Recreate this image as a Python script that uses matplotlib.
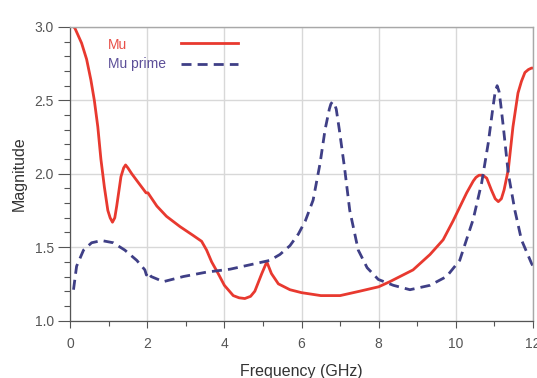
import numpy as np
import matplotlib
matplotlib.use("Agg")
import matplotlib.pyplot as plt

plt.rcParams['font.family'] = ['Liberation Sans', 'DejaVu Sans']

# -------------------------------
# Data
# -------------------------------
mu_freq = [0.10, 0.13, 0.30, 0.43, 0.54, 0.63, 0.72, 0.80, 0.89, 0.98,
           1.04, 1.10, 1.16, 1.21, 1.32, 1.39, 1.44, 1.50, 1.60, 1.77,
           1.97, 2.02, 2.07, 2.25, 2.50, 2.85, 3.19, 3.41, 3.54, 3.67,
           3.84, 4.00, 4.23, 4.38, 4.53, 4.68, 4.79, 4.97, 5.10, 5.22,
           5.40, 5.70, 6.00, 6.50, 7.00, 7.51, 8.00, 8.29, 8.89, 9.33,
           9.67, 9.93, 10.28, 10.45, 10.52, 10.60, 10.70, 10.80, 10.92, 11.02,
           11.10, 11.18, 11.25, 11.36, 11.48, 11.61, 11.70, 11.79, 11.88, 11.96,
           12.00]
mu_mag = [3.00, 2.99, 2.89, 2.78, 2.64, 2.50, 2.32, 2.10, 1.91, 1.75,
          1.70, 1.67, 1.70, 1.78, 1.98, 2.04, 2.06, 2.04, 2.00, 1.94,
          1.87, 1.87, 1.85, 1.78, 1.71, 1.64, 1.58, 1.54, 1.48, 1.40,
          1.32, 1.24, 1.17, 1.155, 1.15, 1.165, 1.20, 1.32, 1.40, 1.32,
          1.25, 1.21, 1.19, 1.17, 1.17, 1.20, 1.23, 1.265, 1.345, 1.45,
          1.55, 1.68, 1.87, 1.95, 1.975, 1.99, 1.99, 1.97, 1.89, 1.83,
          1.81, 1.83, 1.89, 2.03, 2.32, 2.55, 2.63, 2.69, 2.71, 2.72,
          2.72]

mup_freq = [0.09, 0.17, 0.35, 0.56, 0.82, 1.12, 1.42, 1.73, 1.94, 1.98,
            2.02, 2.10, 2.42, 2.94, 3.54, 4.15, 4.84, 5.18, 5.44, 5.70,
            5.92, 6.10, 6.30, 6.48, 6.61, 6.72, 6.76, 6.80, 6.85, 6.90,
            6.98, 7.12, 7.25, 7.47, 7.70, 7.99, 8.38, 8.81, 9.33, 9.76,
            10.10, 10.45, 10.67, 10.84, 10.96, 11.02, 11.07, 11.12, 11.16, 11.23,
            11.36, 11.53, 11.70, 11.96, 12.00]
mup_mag = [1.21, 1.37, 1.48, 1.53, 1.545, 1.53, 1.48, 1.41, 1.345, 1.31,
           1.33, 1.30, 1.265, 1.30, 1.33, 1.35, 1.39, 1.41, 1.45, 1.51,
           1.59, 1.68, 1.82, 2.07, 2.30, 2.44, 2.475, 2.49, 2.48, 2.44,
           2.30, 2.03, 1.75, 1.48, 1.36, 1.28, 1.24, 1.21, 1.24, 1.30,
           1.41, 1.69, 1.94, 2.21, 2.45, 2.56, 2.60, 2.56, 2.48, 2.32,
           2.00, 1.75, 1.55, 1.39, 1.37]

red = "#e8392f"
navy = "#3f3f86"

# -------------------------------
# Plot
# -------------------------------
fig = plt.figure(figsize=(5.37, 3.78), dpi=100)
ax = fig.add_axes([0.1304, 0.152, 0.8622, 0.7766])

ax.plot(mu_freq, mu_mag, color=red, lw=2.0, solid_joinstyle="round")
ax.plot(mup_freq, mup_mag, color=navy, lw=2.0, dashes=(3.6, 2.2),
        dash_joinstyle="round")

ax.set_xlim(0, 12)
ax.set_ylim(1.0, 3.0)
ax.set_xticks(np.arange(0, 13, 2))
ax.set_xticks(np.arange(1, 12, 2), minor=True)
ax.set_yticks([1.0, 1.5, 2.0, 2.5, 3.0])
ax.set_yticks(np.arange(1.1, 3.0, 0.1), minor=True)
ax.set_yticklabels(["1.0", "1.5", "2.0", "2.5", "3.0"])

ax.grid(True, which="major", color="#d8d8d8", lw=1.0)
ax.set_axisbelow(True)

ax.tick_params(axis="y", which="major", length=8.5, width=0.8, color="#555555",
               labelsize=10, labelcolor="#555555", pad=3)
ax.tick_params(axis="y", which="minor", length=4.3, width=0.8, color="#555555")
ax.tick_params(axis="x", which="major", length=5, width=0.8, color="#555555",
               labelsize=10, labelcolor="#555555", pad=7)
ax.tick_params(axis="x", which="minor", length=3.6, width=0.8, color="#555555")

for side in ["left", "bottom"]:
    ax.spines[side].set_color("#555555")
    ax.spines[side].set_linewidth(0.9)
for side in ["top", "right"]:
    ax.spines[side].set_color("#a8a8a8")
    ax.spines[side].set_linewidth(1.0)

ax.set_xlabel("Frequency (GHz)", fontsize=11.5, color="#333333", labelpad=9)
ax.set_ylabel("Magnitude", fontsize=11.5, color="#333333", labelpad=6)

# legend: text on the left, line sample on the right
ax.text(0.082, 0.9387, "Mu", transform=ax.transAxes, color="#e84f48",
        fontsize=10, va="center", ha="left")
ax.text(0.082, 0.873, "Mu prime", transform=ax.transAxes, color="#5c4f98",
        fontsize=10, va="center", ha="left")
ax.plot([0.240, 0.363], [0.9455, 0.9455], transform=ax.transAxes,
        color=red, lw=2.0)
ax.plot([0.240, 0.363], [0.875, 0.875], transform=ax.transAxes,
        color=navy, lw=2.0, dashes=(3.6, 2.2))

fig.savefig("out.png", dpi=100)
